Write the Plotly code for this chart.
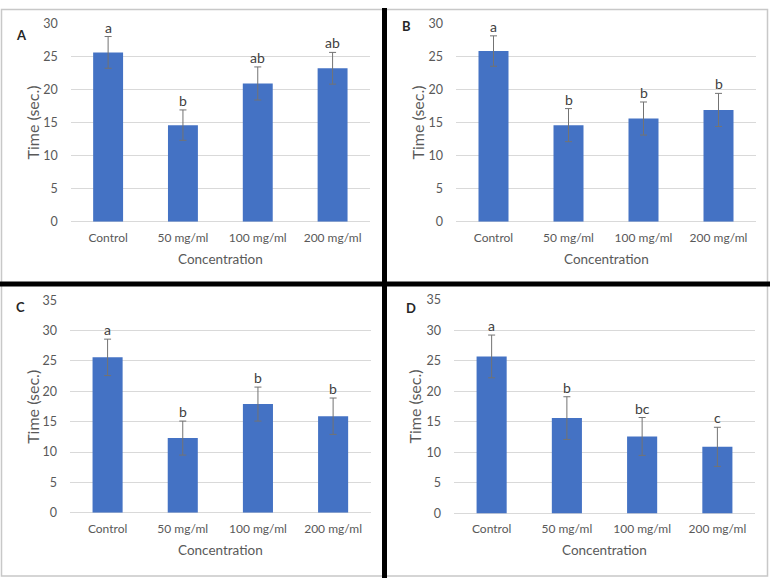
import plotly.graph_objects as go

W, H = 773, 585

categories = ["Control", "50 mg/ml", "100 mg/ml", "200 mg/ml"]

values_A = [25.6, 14.6, 20.9, 23.2]
errors_A = [2.4, 2.3, 2.5, 2.4]
letters_A = ["a", "b", "ab", "ab"]

values_B = [25.8, 14.6, 15.6, 16.9]
errors_B = [2.3, 2.5, 2.5, 2.5]
letters_B = ["a", "b", "b", "b"]

values_C = [25.6, 12.3, 17.9, 15.9]
errors_C = [3.0, 2.8, 2.8, 3.0]
letters_C = ["a", "b", "b", "b"]

values_D = [25.7, 15.6, 12.6, 10.9]
errors_D = [3.5, 3.5, 3.1, 3.2]
letters_D = ["a", "b", "bc", "c"]

y_max = {"A": 30, "B": 30, "C": 35, "D": 35}

FONT = "Lato, 'Open Sans', 'DejaVu Sans', sans-serif"
BAR = "#4472C4"
GRID = "#D9D9D9"
TXT = "#595959"

# panel geometry in pixels: (left, right, top, bottom)
panels = {
    "A": dict(box=(70.7, 370.0, 15.7, 219.3), ytitle_x=32.0, xtitle_y=258.0, lab=(21.7, 27.3)),
    "B": dict(box=(456.0, 756.0, 15.7, 219.3), ytitle_x=417.0, xtitle_y=258.0, lab=(406.0, 18.5)),
    "C": dict(box=(70.0, 370.7, 300.0, 518.0), ytitle_x=32.3, xtitle_y=556.7, lab=(20.0, 306.7)),
    "D": dict(box=(454.0, 755.0, 299.3, 518.7), ytitle_x=415.0, xtitle_y=556.7, lab=(410.7, 308.0)),
}
data = {
    "A": (values_A, errors_A, letters_A),
    "B": (values_B, errors_B, letters_B),
    "C": (values_C, errors_C, letters_C),
    "D": (values_D, errors_D, letters_D),
}

fig = go.Figure()
annotations = []
layout_axes = {}

for i, key in enumerate(["A", "B", "C", "D"]):
    vals, errs, lets = data[key]
    p = panels[key]
    l, r, t, b = p["box"]
    xs = "x" if i == 0 else f"x{i+1}"
    ys = "y" if i == 0 else f"y{i+1}"
    xa = "xaxis" if i == 0 else f"xaxis{i+1}"
    ya = "yaxis" if i == 0 else f"yaxis{i+1}"
    fig.add_trace(go.Bar(
        x=categories, y=vals, width=0.4, xaxis=xs, yaxis=ys,
        marker=dict(color=BAR, line=dict(width=0)),
        error_y=dict(type="data", array=errs, color="#737373", thickness=1, width=3.5),
        showlegend=False,
    ))
    layout_axes[xa] = dict(
        domain=[l / W, r / W], anchor=ys, type="category", range=[-0.5, 3.5],
        showgrid=False, showline=False, zeroline=False, ticks="",
        tickfont=dict(family=FONT, size=12, color=TXT), ticklabelstandoff=7,
    )
    layout_axes[ya] = dict(
        domain=[1 - b / H, 1 - t / H], anchor=xs, range=[0, y_max[key]], dtick=5,
        showgrid=True, gridcolor=GRID, gridwidth=1, zeroline=True, zerolinecolor=GRID,
        zerolinewidth=1, showline=False, ticks="",
        tickfont=dict(family=FONT, size=12.5, color=TXT), ticklabelstandoff=12,
    )
    for c, v, e, s in zip(categories, vals, errs, lets):
        annotations.append(dict(
            x=c, y=v + e, xref=xs, yref=ys, text=s, showarrow=False,
            yanchor="bottom", yshift=-1,
            font=dict(family=FONT, size=14, color="#404040"),
        ))
    annotations.append(dict(
        x=p["ytitle_x"] / W, y=1 - ((t + b) / 2) / H, xref="paper", yref="paper",
        text="Time (sec.)", textangle=-90, showarrow=False,
        xanchor="center", yanchor="middle",
        font=dict(family=FONT, size=16, color=TXT),
    ))
    annotations.append(dict(
        x=((l + r) / 2) / W, y=1 - p["xtitle_y"] / H, xref="paper", yref="paper",
        text="Concentration", showarrow=False, xanchor="center", yanchor="middle",
        font=dict(family=FONT, size=13.5, color=TXT),
    ))
    annotations.append(dict(
        x=p["lab"][0] / W, y=1 - p["lab"][1] / H, xref="paper", yref="paper",
        text="<b>" + key + "</b>", showarrow=False, xanchor="center", yanchor="middle",
        font=dict(family=FONT, size=13, color="#262626"),
    ))

shapes = [
    dict(type="rect", xref="paper", yref="paper", x0=1.5 / W, x1=767.5 / W,
         y0=1 - 583 / H, y1=1 - 1.5 / H, line=dict(color="#C8C8C8", width=1.5)),
    dict(type="line", xref="paper", yref="paper", x0=384.5 / W, x1=384.5 / W,
         y0=0, y1=1, line=dict(color="black", width=5)),
    dict(type="line", xref="paper", yref="paper", x0=0, x1=770 / W,
         y0=1 - 283.3 / H, y1=1 - 283.3 / H, line=dict(color="black", width=5)),
]

fig.update_layout(
    width=W, height=H, margin=dict(l=0, r=0, t=0, b=0),
    paper_bgcolor="white", plot_bgcolor="white",
    annotations=annotations, shapes=shapes, bargap=0.6,
    **layout_axes,
)

fig.write_html("out.html")
